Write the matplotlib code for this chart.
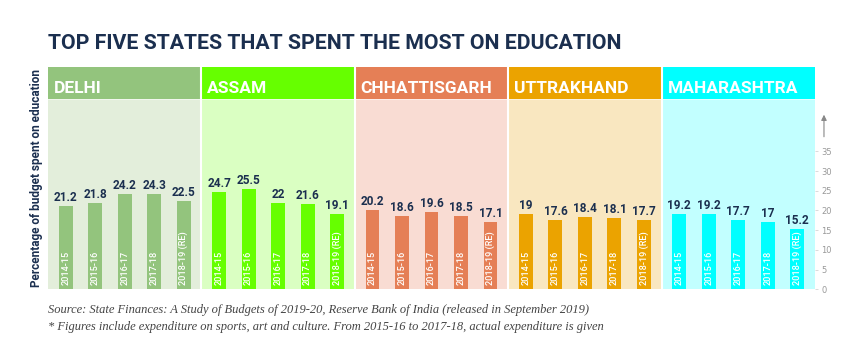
import numpy as np
import matplotlib
matplotlib.use("Agg")
import matplotlib.pyplot as plt
import matplotlib.transforms as mtrans

# data
states = ["DELHI", "ASSAM", "CHHATTISGARH", "UTTRAKHAND", "MAHARASHTRA"]
years = ["2014-15", "2015-16", "2016-17", "2017-18", "2018-19 (RE)"]
delhi = [21.2, 21.8, 24.2, 24.3, 22.5]
assam = [24.7, 25.5, 22, 21.6, 19.1]
chhattisgarh = [20.2, 18.6, 19.6, 18.5, 17.1]
uttrakhand = [19, 17.6, 18.4, 18.1, 17.7]
maharashtra = [19.2, 19.2, 17.7, 17, 15.2]
values = [delhi, assam, chhattisgarh, uttrakhand, maharashtra]
yticks = [0, 5, 10, 15, 20, 25, 30, 35]

# styling
strong = ["#93c47d", "#66ff00", "#e57f56", "#eba300", "#00ffff"]
light = ["#e3eedb", "#daffc2", "#f9dcd3", "#f9e7c0", "#c2ffff"]
navy = "#1b2f4f"
sans = ["Roboto", "DejaVu Sans"]
serif = ["Liberation Serif", "DejaVu Serif"]

panel_w = 5.2
pad = 0.6
bar_w = 0.47
body_top = 48.2
ymax = 56.4

fig = plt.figure(figsize=(8.6, 3.51), dpi=100)
ax = fig.add_axes([48/860, (351-289.3)/351, 767/860, 222.3/351])
ax.set_xlim(0, panel_w*len(states))
ax.set_ylim(0, ymax)

for i, (name, vals) in enumerate(zip(states, values)):
    lo = i*panel_w
    hi = lo + panel_w
    ax.axvspan(lo, hi, ymax=body_top/ymax, color=light[i], lw=0)
    ax.axvspan(lo, hi, ymin=body_top/ymax, color=strong[i], lw=0)
    ax.text(lo + 0.2, 49.9, name, color="white", fontsize=12.5, fontweight="bold",
            family=sans, va="baseline", ha="left")
    x = lo + pad + np.arange(len(vals))
    ax.bar(x, vals, width=bar_w, color=strong[i], lw=0, zorder=3)
    for xx, v, yr in zip(x, vals, years):
        ax.text(xx, v + 0.5, f"{v:g}", color=navy, fontsize=8.5, fontweight="bold",
                family=sans, ha="center", va="bottom", zorder=4)
        ax.text(xx, 1.2, yr, color="white", fontsize=6.6, fontweight="medium", family=sans,
                rotation=90, ha="center", va="bottom", zorder=4)

# white separators between panels and under the headers
for i in range(1, len(states)):
    ax.axvline(i*panel_w, color="white", lw=1.5, zorder=2)
ax.axhline(body_top, color="white", lw=0.6, alpha=0.6, zorder=2)

# scale on the right
ax.yaxis.tick_right()
ax.set_yticks(yticks)
ax.tick_params(axis="y", length=2.5, width=0.5, color="#cccccc", labelcolor="#999999",
               labelsize=6, pad=2)
ax.set_xticks([])
for s in ax.spines.values():
    s.set_visible(False)
trans = mtrans.blended_transform_factory(ax.transAxes, ax.transData)
ax.annotate("", xy=(1.0117, 45), xytext=(1.0117, 38), xycoords=trans, textcoords=trans,
            arrowprops=dict(arrowstyle="-|>", color="#888888", lw=0.8, mutation_scale=8))

fig.text(37/860, 1 - 178/351, "Percentage of budget spent on education", rotation=90,
         color=navy, fontsize=8.5, fontweight="bold", family=sans, ha="center", va="center")

fig.text(48/860, 1 - 43.5/351, "TOP FIVE STATES THAT SPENT THE MOST ON EDUCATION",
         color=navy, fontsize=15.3, fontweight="bold", family=sans, ha="left", va="center")

fig.text(48/860, 1 - 310/351,
         "Source: State Finances: A Study of Budgets of 2019-20, Reserve Bank of India (released in September 2019)",
         color="#444444", fontsize=9, style="italic", family=serif, ha="left", va="center")
fig.text(48/860, 1 - 327/351,
         "* Figures include expenditure on sports, art and culture. From 2015-16 to 2017-18, actual expenditure is given",
         color="#444444", fontsize=9, style="italic", family=serif, ha="left", va="center")

fig.savefig("out.png", dpi=100)
